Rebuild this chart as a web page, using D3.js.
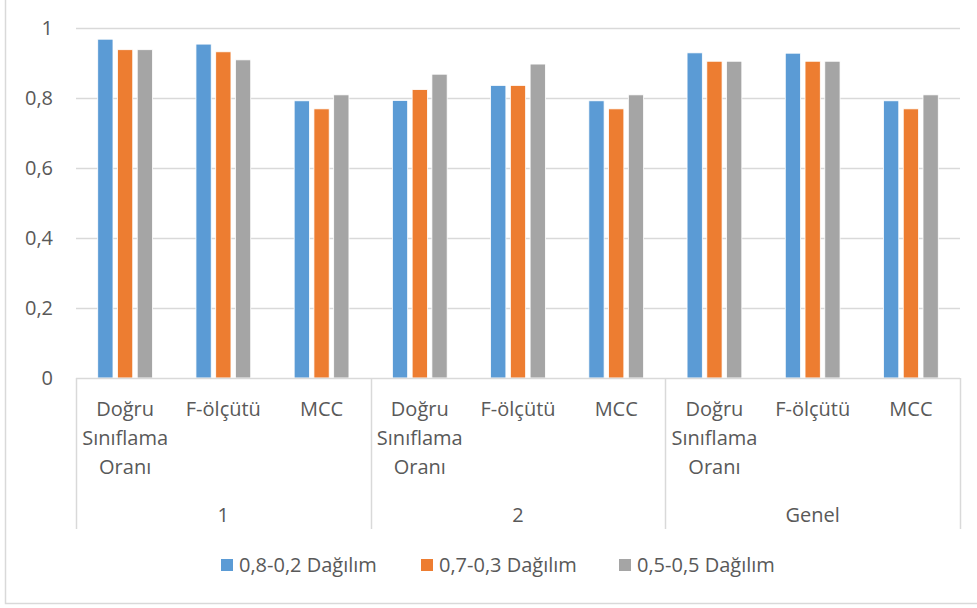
<!DOCTYPE html>
<html>
<head>
<meta charset="utf-8">
<script src="https://cdn.jsdelivr.net/npm/d3@7"></script>
<style>
  body { margin: 0; background: #fff; }
  svg text { font-family: "Open Sans", "Noto Sans", sans-serif; fill: #595959; }
</style>
</head>
<body>
<svg id="chart" width="977" height="608"></svg>
<script>
// Group / metric structure of the category axis
const groups = ["1", "2", "Genel"];
const metrics = ["Doğru\nSınıflama\nOranı", "F-ölçütü", "MCC"];
const seriesNames = ["0,8-0,2 Dağılım", "0,7-0,3 Dağılım", "0,5-0,5 Dağılım"];
const seriesColors = ["#5B9BD5", "#ED7D31", "#A5A5A5"];

// Values per series, ordered group by group, metric by metric
const split82 = [0.968, 0.954, 0.792, 0.793, 0.836, 0.792, 0.929, 0.928, 0.792];
const split73 = [0.938, 0.932, 0.769, 0.824, 0.836, 0.769, 0.905, 0.905, 0.769];
const split55 = [0.938, 0.909, 0.809, 0.868, 0.897, 0.809, 0.905, 0.905, 0.809];
const seriesValues = [split82, split73, split55];

const yTicks = [0, 0.2, 0.4, 0.6, 0.8, 1];
const yTickLabels = ["0", "0,2", "0,4", "0,6", "0,8", "1"];

const FS = "20px";
const svg = d3.select("#chart");
const plotLeft = 76, plotRight = 960, plotTop = 28, plotBottom = 378;

// Outer chart frame
svg.append("rect")
  .attr("x", 5.5).attr("y", -10)
  .attr("width", 1000).attr("height", 613.5)
  .attr("fill", "#fff").attr("stroke", "#D9D9D9").attr("stroke-width", 1.5);

const cats = [];
groups.forEach(g => metrics.forEach(m => cats.push(g + "|" + m)));

const x = d3.scaleBand().domain(cats).range([plotLeft, plotRight]).paddingInner(0).paddingOuter(0);
const y = d3.scaleLinear().domain([0, 1]).range([plotBottom, plotTop]);
const xInner = d3.scaleBand().domain(d3.range(seriesNames.length))
  .range([0, x.bandwidth()]).paddingInner(0.227).paddingOuter(1.1);

// Gridlines
svg.append("g").selectAll("line").data(yTicks.filter(t => t > 0)).join("line")
  .attr("x1", plotLeft).attr("x2", plotRight)
  .attr("y1", d => Math.round(y(d)) + 0.5).attr("y2", d => Math.round(y(d)) + 0.5)
  .attr("stroke", "#D9D9D9").attr("stroke-width", 1.5);

// Y axis labels
const yAxis = d3.axisLeft(y).tickValues(yTicks)
  .tickFormat((d, i) => yTickLabels[i]).tickSize(0).tickPadding(0);
const yg = svg.append("g").attr("transform", `translate(${plotLeft - 23},0)`).call(yAxis);
yg.select(".domain").remove();
yg.attr("font-size", null).attr("font-family", null);
yg.selectAll("text").style("font-size", FS).attr("fill", "#595959");

// Bars
seriesValues.forEach((vals, si) => {
  svg.append("g").selectAll("rect").data(vals).join("rect")
    .attr("x", (d, i) => x(cats[i]) + xInner(si))
    .attr("y", d => y(d))
    .attr("width", xInner.bandwidth())
    .attr("height", d => y(0) - y(d))
    .attr("fill", seriesColors[si])
    .attr("stroke", "#fff").attr("stroke-width", 0.8);
});

// Category axis baseline and group separators
svg.append("line").attr("x1", plotLeft).attr("x2", plotRight)
  .attr("y1", plotBottom + 0.5).attr("y2", plotBottom + 0.5)
  .attr("stroke", "#D9D9D9").attr("stroke-width", 1.5);
const sepX = [0, 3, 6, 9].map(i => i < 9 ? x(cats[i]) : plotRight);
svg.append("g").selectAll("line").data(sepX).join("line")
  .attr("x1", d => Math.round(d) + 0.5).attr("x2", d => Math.round(d) + 0.5)
  .attr("y1", plotBottom).attr("y2", 529)
  .attr("stroke", "#D9D9D9").attr("stroke-width", 1.5);

// Metric labels (multi-line)
const catLabels = svg.append("g").selectAll("text").data(cats).join("text")
  .attr("text-anchor", "middle").style("font-size", FS)
  .attr("transform", d => `translate(${x(d) + x.bandwidth() / 2},416)`);
catLabels.each(function(d) {
  const lines = d.split("|")[1].split("\n");
  d3.select(this).selectAll("tspan").data(lines).join("tspan")
    .attr("x", 0).attr("dy", (l, i) => i === 0 ? 0 : 29).text(l => l);
});

// Group labels
svg.append("g").selectAll("text").data(groups).join("text")
  .attr("x", (g, i) => (sepX[i] + sepX[i + 1]) / 2)
  .attr("y", 522).attr("text-anchor", "middle").style("font-size", FS)
  .text(g => g);

// Legend
const legendX = [221, 421, 619];
const lg = svg.append("g").selectAll("g").data(seriesNames).join("g")
  .attr("transform", (d, i) => `translate(${legendX[i]},559)`);
lg.append("rect").attr("width", 12).attr("height", 12)
  .attr("fill", (d, i) => seriesColors[i]);
lg.append("text").attr("x", 18).attr("y", 13).style("font-size", FS).text(d => d);
</script>
</body>
</html>
